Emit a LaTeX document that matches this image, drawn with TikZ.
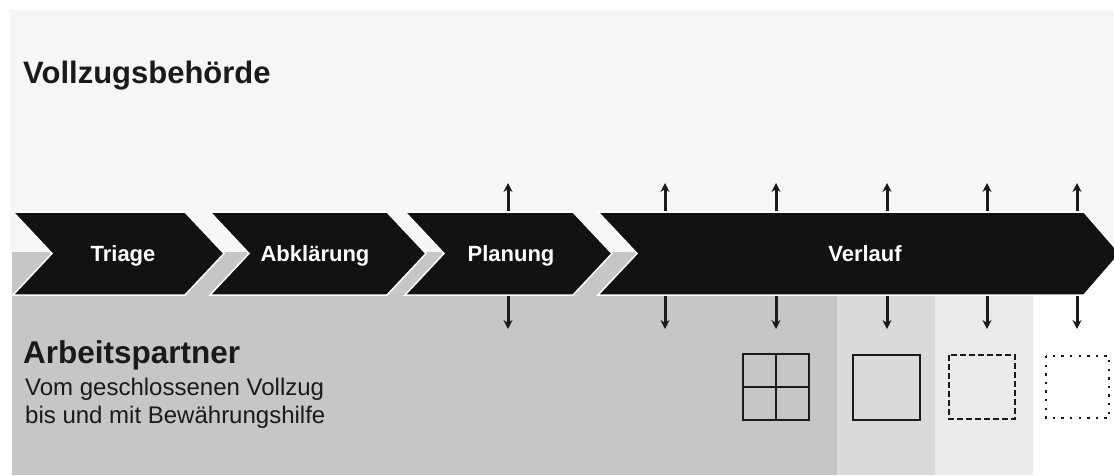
\documentclass[tikz,border=0pt]{standalone}
\usepackage{fontspec}
\setmainfont{Liberation Sans}
\usetikzlibrary{arrows.meta}
\definecolor{chev}{HTML}{121212}
\definecolor{bandA}{HTML}{C6C6C6}
\definecolor{bandB}{HTML}{DADADA}
\definecolor{bandC}{HTML}{EAEAEA}
\definecolor{topbg}{HTML}{F6F6F6}
\definecolor{ink}{HTML}{1A1A1A}
\tikzset{
  chevshape/.style={fill=chev, draw=white, line width=1.5pt, line join=miter},
  chevlabel/.style={text=white, font=\bfseries\fontsize{22}{26}\selectfont, inner sep=0pt},
  vtick/.style={draw=ink, line width=3pt, -{Stealth[length=9pt,width=9pt]}},
  sq/.style={draw=ink, line width=2.8pt},
}
\begin{document}
\begin{tikzpicture}[x=1pt,y=-1pt]
\useasboundingbox (0,0) rectangle (1114,475);
\clip (0,0) rectangle (1114,475);
% backgrounds
\fill[topbg] (10,10) rectangle (1114,252);
\fill[bandA] (12,252) rectangle (837,475);
\fill[bandB] (837,252) rectangle (935,475);
\fill[bandC] (935,252) rectangle (1033,475);
% title
\node[anchor=base west, inner sep=0pt, text=ink, font=\bfseries\fontsize{31}{35}\selectfont] (title) at (23,83) {Vollzugsbehörde};
% chevrons
\draw[chevshape] (13,212) -- (185,212) -- (224,253.5) -- (185,295) -- (13,295) -- (52,253.5) -- cycle;
\draw[chevshape] (210,212) -- (387,212) -- (426,253.5) -- (387,295) -- (210,295) -- (249,253.5) -- cycle;
\draw[chevshape] (405,212) -- (573,212) -- (612,253.5) -- (573,295) -- (405,295) -- (444,253.5) -- cycle;
\draw[chevshape] (598,212) -- (1084,212) -- (1120,253.5) -- (1084,295) -- (598,295) -- (637,253.5) -- cycle;
\node[chevlabel, anchor=base] (triage) at (123,261) {Triage};
\node[chevlabel, anchor=base] (abkl) at (315,261) {Abklärung};
\node[chevlabel, anchor=base] (plan) at (511,261) {Planung};
\node[chevlabel, anchor=base] (verl) at (865,261) {Verlauf};
% arrows
\foreach \i/\x in {1/508,2/665,3/776,4/887,5/987,6/1077}{
  \coordinate (ut\i) at (\x,211);
  \coordinate (uh\i) at (\x,183);
  \coordinate (db\i) at (\x,296);
  \coordinate (dh\i) at (\x,329);
  \draw[vtick] (ut\i) -- (uh\i);
  \draw[vtick] (db\i) -- (dh\i);
}
% partner text
\node[anchor=base west, inner sep=0pt, text=ink, font=\bfseries\fontsize{31.5}{35}\selectfont] (ap) at (23,363) {Arbeitspartner};
\node[anchor=base west, inner sep=0pt, text=ink, font=\fontsize{24}{28}\selectfont] (ap1) at (25,395) {Vom geschlossenen Vollzug};
\node[anchor=base west, inner sep=0pt, text=ink, font=\fontsize{24}{28}\selectfont] (ap2) at (25,423) {bis und mit Bewährungshilfe};
% squares
\draw[sq] (743,354) rectangle (809,420);
\draw[sq] (776,354) -- (776,420);
\draw[sq] (743,387) -- (809,387);
\draw[sq] (853,355) rectangle (920,420);
\draw[sq, dash pattern=on 6pt off 3pt] (949,355) rectangle (1015,419);
\draw[sq, line width=2.6pt, dash pattern=on 2.4pt off 6.2pt] (1046,356) rectangle (1109,418);
\end{tikzpicture}
\end{document}
